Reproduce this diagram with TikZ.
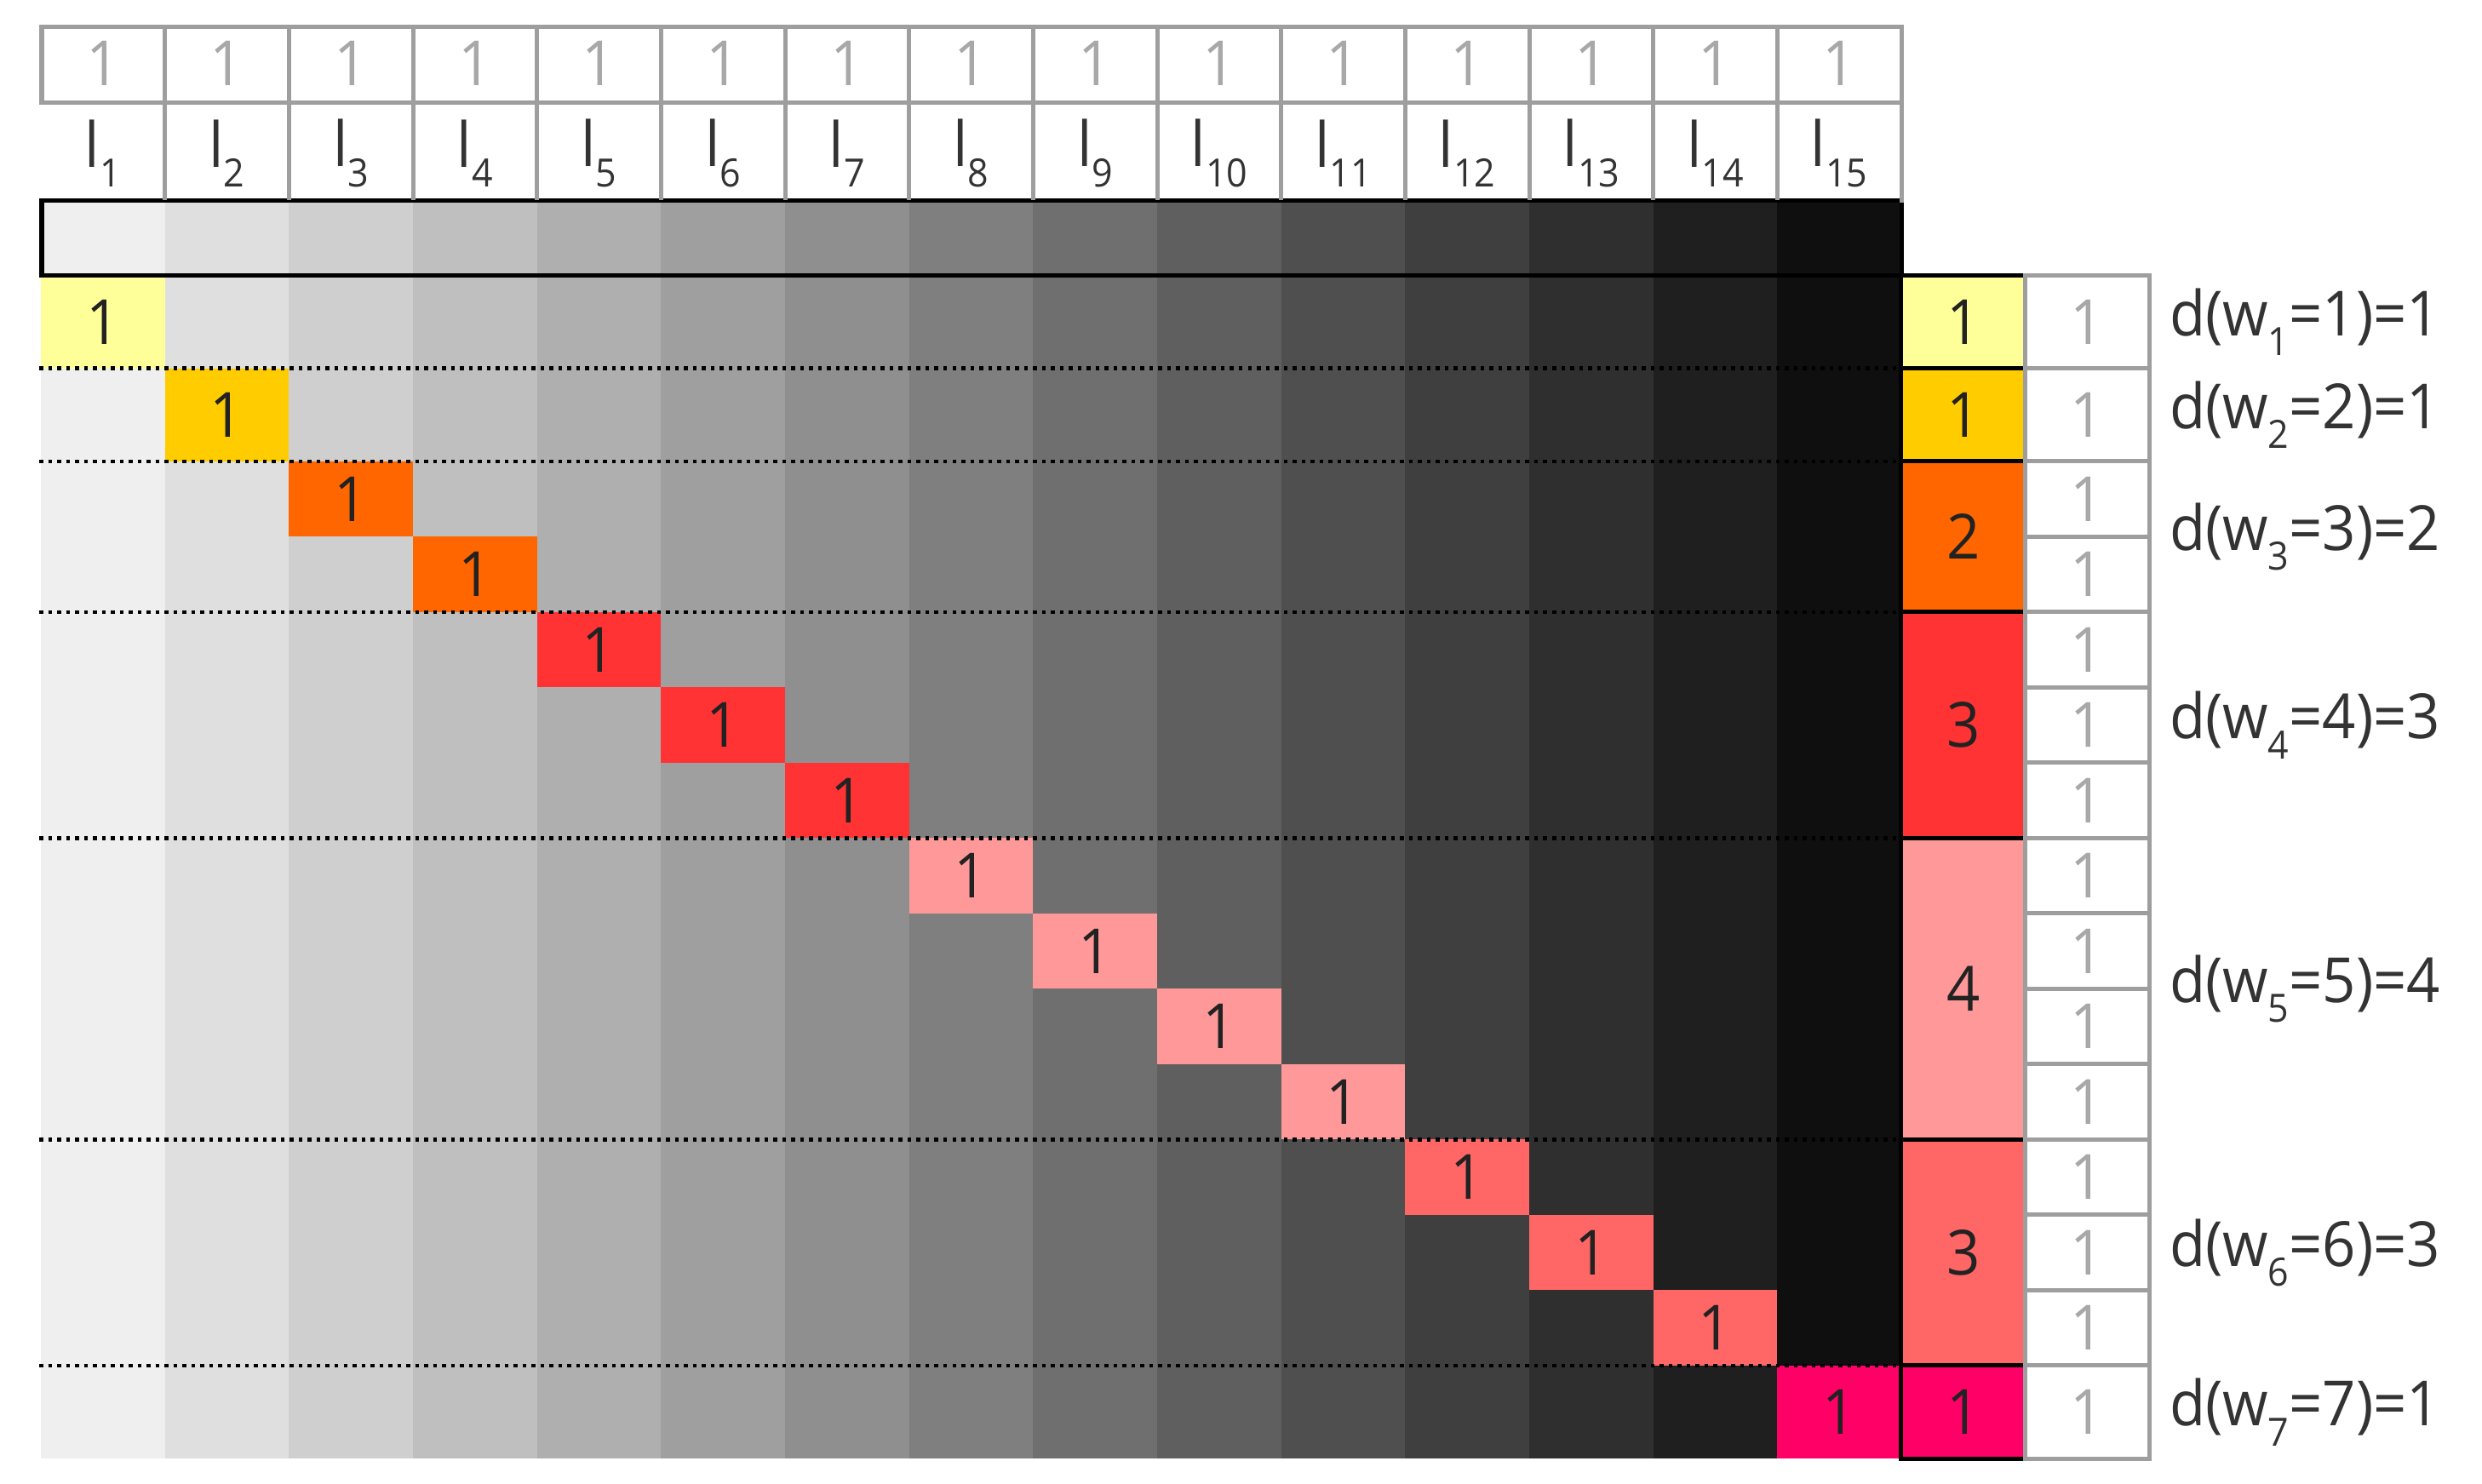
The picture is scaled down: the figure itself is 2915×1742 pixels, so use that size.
\documentclass[tikz,border=0pt]{standalone}
\usepackage{fontspec}
\setmainfont{Open Sans}[FakeStretch=0.94]
\definecolor{cA}{HTML}{FFFF99}
\definecolor{cB}{HTML}{FFCC00}
\definecolor{cC}{HTML}{FF6600}
\definecolor{cD}{HTML}{FF3333}
\definecolor{cE}{HTML}{FF9999}
\definecolor{cF}{HTML}{FF6666}
\definecolor{cG}{HTML}{FF0066}
\definecolor{gridgray}{HTML}{9E9E9E}
\definecolor{txtgray}{HTML}{A8A8A8}
\definecolor{txtdark}{HTML}{333333}
\definecolor{numdark}{HTML}{222222}
\newcommand\sbx[1]{\raisebox{-0.32em}{\fontsize{13}{15}\selectfont #1}}
\begin{document}
\begin{tikzpicture}[x=0.01cm,y=-0.01cm,
  every node/.style={inner sep=0pt,outer sep=0pt,font=\fontsize{20.8}{25}\selectfont},
  cellbox/.style={minimum width=1.4567cm,text=numdark},
  groupbox/.style={draw=black,line width=0.05cm,minimum width=1.4567cm,text=numdark},
  whitebox/.style={draw=gridgray,fill=white,line width=0.05cm,minimum width=1.4567cm,text=txtgray},
  gridline/.style={draw=gridgray,line width=0.05cm},
  boxline/.style={draw=black,line width=0.05cm},
  dotline/.style={draw=black,line width=1.28pt,dash pattern=on 1.28pt off 1.71pt},
  headtop/.style={text=txtgray},
  headlab/.style={text=txtdark},
  sidelab/.style={anchor=west,text=txtdark}]
\useasboundingbox (0,0) rectangle (2915,1742);
% gray gradient columns
\foreach \i in {1,...,15}{
  \pgfmathtruncatemacro\v{239-16*(\i-1)}
  \pgfmathsetmacro\xa{48+145.67*(\i-1)}
  \pgfmathsetmacro\xb{48+145.67*\i}
  \definecolor{gc}{RGB}{\v,\v,\v}
  \fill[gc] (\xa,235) rectangle (\xb,1713.1);
}
% diagonal cells
\foreach \k/\ya/\yb/\c in {1/323.5/432.7/cA, 2/432.7/541.9/cB, 3/541.9/630.4/cC, 4/630.4/718.9/cC, 5/718.9/807.4/cD, 6/807.4/895.9/cD, 7/895.9/984.4/cD, 8/984.4/1072.9/cE, 9/1072.9/1161.4/cE, 10/1161.4/1249.9/cE, 11/1249.9/1338.4/cE, 12/1338.4/1426.9/cF, 13/1426.9/1515.4/cF, 14/1515.4/1603.9/cF, 15/1603.9/1713.1/cG}{
  \pgfmathsetmacro\cx{48+145.67*(\k-0.5)}
  \pgfmathsetmacro\cy{(\ya+\yb)/2}
  \pgfmathsetmacro\hh{(\yb-\ya)*0.01}
  \node[cellbox,fill=\c,minimum height=\hh cm] (d\k) at (\cx,\cy) {1};
}
% dotted separators
\foreach \y in {432.7,541.9,718.9,984.4,1338.4,1603.9}{
  \draw[dotline] (46,\y) -- (2228,\y);
}
% header box of the gradient
\draw[boxline] (49,235) rectangle (2233,323.5);
% group column
\foreach \j/\ya/\yb/\c/\n in {1/323.5/432.7/cA/1, 2/432.7/541.9/cB/1, 3/541.9/718.9/cC/2, 4/718.9/984.4/cD/3, 5/984.4/1338.4/cE/4, 6/1338.4/1603.9/cF/3, 7/1603.9/1713.1/cG/1}{
  \pgfmathsetmacro\cy{(\ya+\yb)/2}
  \pgfmathsetmacro\hh{(\yb-\ya)*0.01}
  \node[groupbox,fill=\c,minimum height=\hh cm] (g\j) at (2305.8,\cy) {\n};
  \node[sidelab] (lab\j) at (2548,\cy) {d(w\sbx{\j}=\j)=\n};
}
% white column
\foreach \k/\ya/\yb in {1/323.5/432.7, 2/432.7/541.9, 3/541.9/630.4, 4/630.4/718.9, 5/718.9/807.4, 6/807.4/895.9, 7/895.9/984.4, 8/984.4/1072.9, 9/1072.9/1161.4, 10/1161.4/1249.9, 11/1249.9/1338.4, 12/1338.4/1426.9, 13/1426.9/1515.4, 14/1515.4/1603.9, 15/1603.9/1713.1}{
  \pgfmathsetmacro\cy{(\ya+\yb)/2}
  \pgfmathsetmacro\hh{(\yb-\ya)*0.01}
  \node[whitebox,minimum height=\hh cm] (w\k) at (2451.5,\cy) {1};
}
% header grid
\draw[gridline,line cap=rect] (49,120) -- (49,31.5) -- (2233,31.5) -- (2233,235);
\draw[gridline] (49,120) -- (2233,120);
\foreach \i in {1,...,14}{
  \pgfmathsetmacro\xx{48+145.67*\i}
  \draw[gridline] (\xx,31.5) -- (\xx,235);
}
\foreach \i in {1,...,15}{
  \pgfmathsetmacro\cx{48+145.67*(\i-0.5)}
  \node[headtop] (t\i) at (\cx,74) {1};
  \node[headlab] (h\i) at (\cx,180) {l\sbx{\i}};
}
\end{tikzpicture}
\end{document}
